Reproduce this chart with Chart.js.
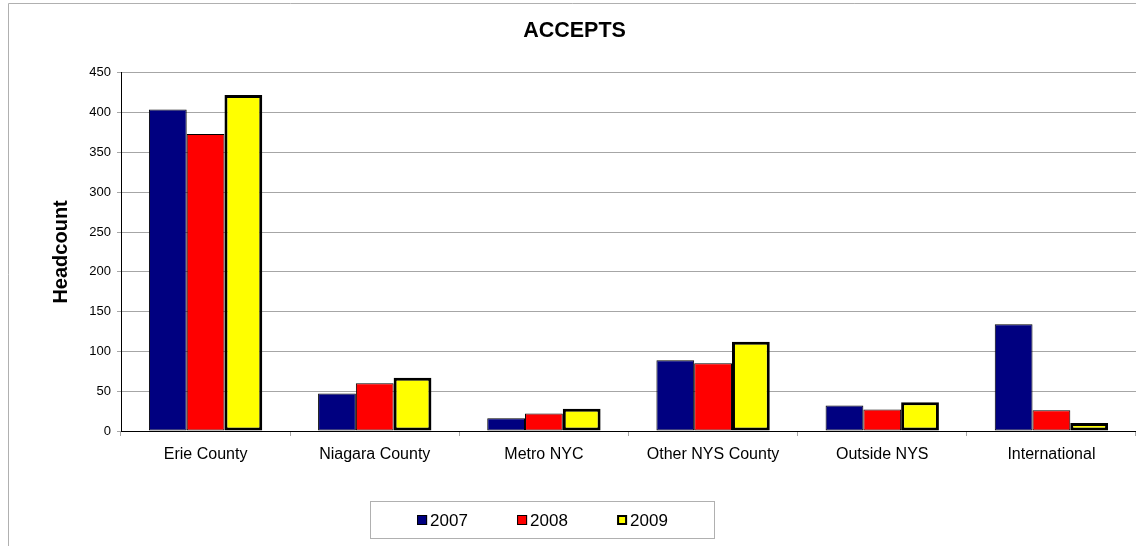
<!DOCTYPE html>
<html>
<head>
<meta charset="utf-8">
<title>ACCEPTS</title>
<script src="https://cdn.jsdelivr.net/npm/chart.js@4/dist/chart.umd.min.js"></script>
<style>
    html, body { margin: 0; padding: 0; background: #fff; }
    #wrap { width: 1136px; height: 546px; position: relative; }
</style>
</head>
<body>
<div id="wrap"><canvas id="accepts"></canvas></div>
<script>
const categories = ['Erie County', 'Niagara County', 'Metro NYC', 'Other NYS County', 'Outside NYS', 'International'];
const years = ['2007', '2008', '2009'];
const values2007 = [404, 47, 16, 89, 32, 134];
const values2008 = [373, 60, 22, 85, 27, 26];
const values2009 = [422, 67, 28, 112, 36, 10];
const yTicks = [0, 50, 100, 150, 200, 250, 300, 350, 400, 450];

const gridGray = '#a6a6a6';
const fontFamily = '"Liberation Sans", Arial, sans-serif';

// outer frame of the chart (left + top edge only, rest is off screen)
const framePlugin = {
    id: 'frame',
    beforeDraw(chart) {
        const ctx = chart.ctx;
        ctx.save();
        ctx.fillStyle = '#fff';
        ctx.fillRect(0, 0, chart.width, chart.height);
        ctx.strokeStyle = '#b0b0b0';
        ctx.lineWidth = 1;
        ctx.beginPath();
        ctx.moveTo(8.5, chart.height);
        ctx.lineTo(8.5, 3.5);
        ctx.lineTo(chart.width, 3.5);
        ctx.stroke();
        ctx.restore();
    }
};

// boxed legend like the excel one
const boxLegend = {
    id: 'boxLegend',
    afterDraw(chart) {
        const ctx = chart.ctx;
        const box = { x: 370.5, y: 501.5, w: 344, h: 37 };
        const slot = 100;
        const cy = box.y + box.h / 2;
        ctx.save();
        ctx.strokeStyle = '#b0b0b0';
        ctx.lineWidth = 1;
        ctx.strokeRect(box.x, box.y, box.w, box.h);

        ctx.font = '17px ' + fontFamily;
        ctx.textBaseline = 'middle';
        ctx.textAlign = 'left';
        const sets = chart.data.datasets;
        const start = box.x + box.w / 2 - (sets.length * slot) / 2;
        sets.forEach((ds, i) => {
            const tw = ctx.measureText(ds.label).width;
            const itemW = 10 + 3 + tw;
            const x0 = start + i * slot + (slot - itemW) / 2;
            ctx.fillStyle = ds.backgroundColor;
            ctx.fillRect(x0, cy - 5, 10, 10);
            ctx.strokeStyle = '#000';
            ctx.lineWidth = ds.borderWidth > 1 ? 2 : 1;
            const inset = ctx.lineWidth / 2;
            ctx.strokeRect(x0 + inset, cy - 5 + inset, 10 - ctx.lineWidth, 10 - ctx.lineWidth);
            ctx.fillStyle = '#000';
            ctx.fillText(ds.label, x0 + 13, cy + 1);
        });
        ctx.restore();
    }
};

new Chart(document.getElementById('accepts'), {
    type: 'bar',
    data: {
        labels: categories,
        datasets: [
            {
                label: years[0],
                data: values2007,
                backgroundColor: '#000080',
                borderColor: '#000',
                borderWidth: 1,
                borderSkipped: false
            },
            {
                label: years[1],
                data: values2008,
                backgroundColor: '#ff0000',
                borderColor: '#000',
                borderWidth: 1,
                borderSkipped: false
            },
            {
                label: years[2],
                data: values2009,
                backgroundColor: '#ffff00',
                borderColor: '#000',
                borderWidth: 3,
                borderSkipped: false
            }
        ]
    },
    options: {
        responsive: true,
        maintainAspectRatio: false,
        animation: false,
        categoryPercentage: 0.67,
        barPercentage: 1,
        layout: {
            padding: { left: 8, top: 3, right: -5, bottom: 75 }
        },
        scales: {
            x: {
                afterFit: (scale) => { scale.height = 40; },
                grid: {
                    drawOnChartArea: false,
                    drawTicks: true,
                    tickLength: 5,
                    color: gridGray,
                    offset: true
                },
                border: { color: '#000', width: 1 },
                ticks: {
                    color: '#000',
                    padding: 9,
                    maxRotation: 0,
                    font: { family: fontFamily, size: 16 }
                }
            },
            y: {
                min: 0,
                max: 450,
                afterFit: (scale) => { scale.width = 113; },
                afterBuildTicks: (scale) => {
                    scale.ticks = yTicks.map(v => ({ value: v }));
                },
                grid: {
                    color: gridGray,
                    tickLength: 4
                },
                border: { color: '#000', width: 1 },
                ticks: {
                    color: '#000',
                    padding: 6,
                    font: { family: fontFamily, size: 13 }
                },
                title: {
                    display: true,
                    text: 'Headcount',
                    color: '#000',
                    padding: { top: 41, bottom: 0 },
                    font: { family: fontFamily, size: 20, weight: 'bold' }
                }
            }
        },
        plugins: {
            legend: { display: false },
            tooltip: { enabled: false },
            title: {
                display: true,
                text: 'ACCEPTS',
                color: '#000',
                padding: { top: 15, bottom: 29 },
                font: { family: fontFamily, size: 21.5, weight: 'bold' }
            }
        }
    },
    plugins: [framePlugin, boxLegend]
});
</script>
</body>
</html>
